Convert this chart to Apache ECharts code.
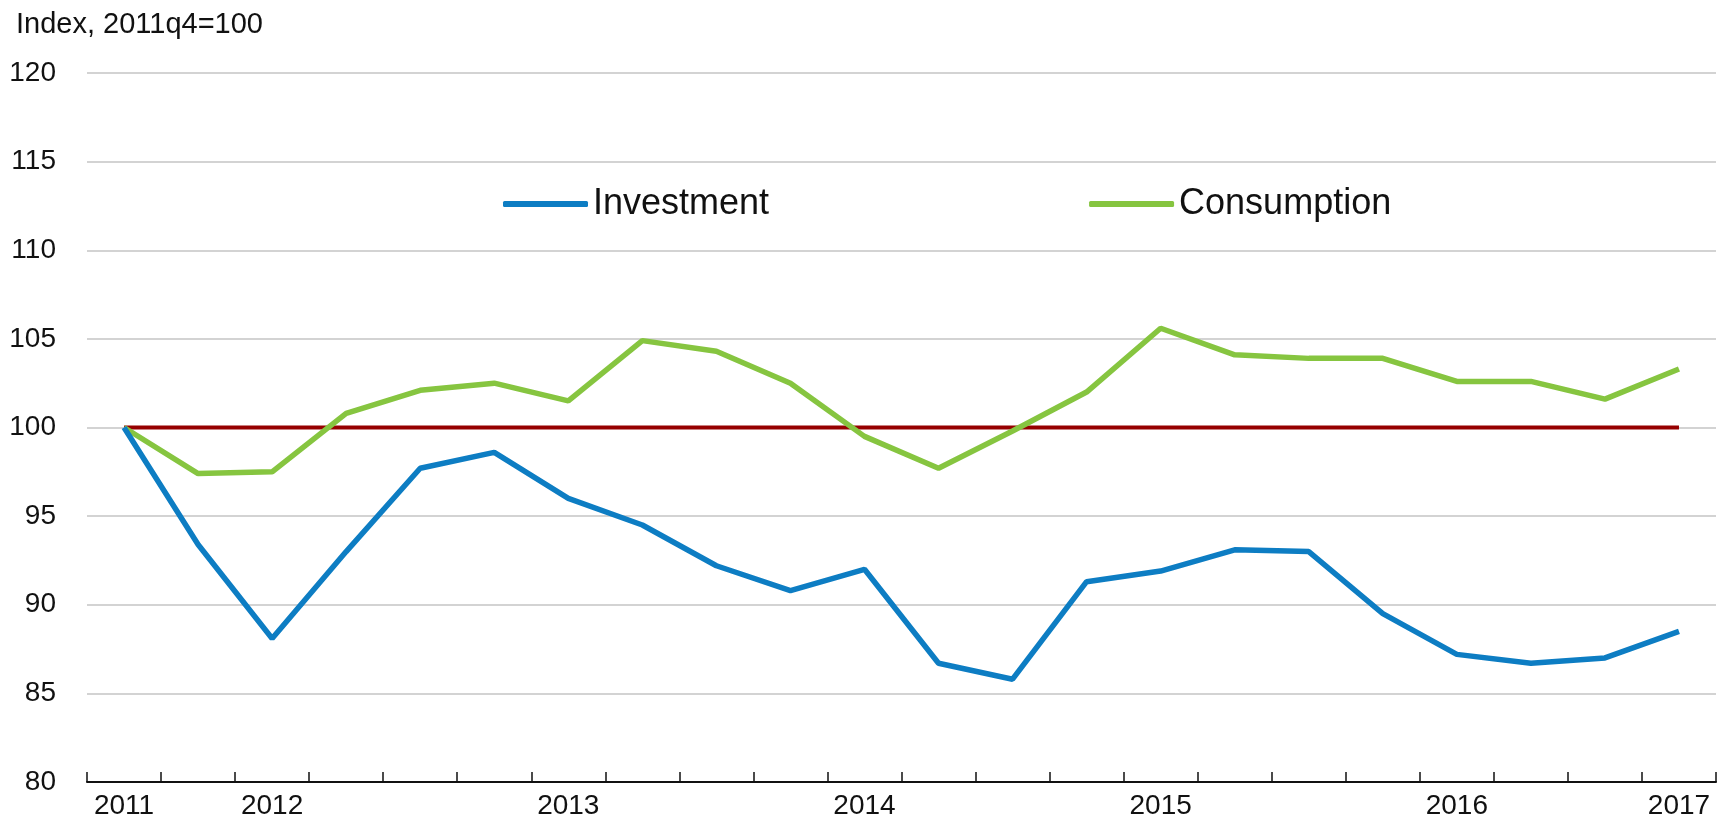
<!DOCTYPE html>
<html>
<head>
<meta charset="utf-8">
<script src="https://cdn.jsdelivr.net/npm/echarts@6/dist/echarts.min.js"></script>
<style>
html,body{margin:0;padding:0;background:#fff;}
#chart{width:1730px;height:826px;}
</style>
</head>
<body>
<div id="chart"></div>
<script>
const categories = ["2011q4","2012q1","2012q2","2012q3","2012q4","2013q1","2013q2","2013q3","2013q4","2014q1","2014q2","2014q3","2014q4","2015q1","2015q2","2015q3","2015q4","2016q1","2016q2","2016q3","2016q4","2017q1"];
const xTickLabels = ["2011","","2012","","","","2013","","","","2014","","","","2015","","","","2016","","","2017"];
const investment = [100.0,93.4,88.1,93.0,97.7,98.6,96.0,94.5,92.2,90.8,92.0,86.7,85.8,91.3,91.9,93.1,93.0,89.5,87.2,86.7,87.0,88.5];
const consumption = [100.0,97.4,97.5,100.8,102.1,102.5,101.5,104.9,104.3,102.5,99.5,97.7,99.8,102.0,105.6,104.1,103.9,103.9,102.6,102.6,101.6,103.3];
const baseline = [100,100,100,100,100,100,100,100,100,100,100,100,100,100,100,100,100,100,100,100,100,100];
const yTicks = {min: 80, max: 120, interval: 5};

const font = "'Liberation Sans', Arial, sans-serif";
const chart = echarts.init(document.getElementById('chart'));
chart.setOption({
  animation: false,
  backgroundColor: '#fff',
  textStyle: {fontFamily: font},
  title: {
    text: 'Index, 2011q4=100',
    left: 11, top: 5,
    textStyle: {fontFamily: font, fontSize: 29, fontWeight: 'normal', color: '#111'}
  },
  legend: {
    data: ['Investment', 'Consumption'],
    left: 498, top: 181,
    itemWidth: 85, itemHeight: 6, itemGap: 320,
    icon: 'roundRect',
    textStyle: {fontFamily: font, fontSize: 36, color: '#111'}
  },
  grid: {left: 87, right: 14, top: 73, bottom: 44, containLabel: false},
  xAxis: {
    type: 'category',
    data: categories,
    boundaryGap: true,
    axisLine: {lineStyle: {color: '#111', width: 2}},
    axisTick: {show: true, inside: true, length: 10, interval: 0, lineStyle: {color: '#111', width: 1.5}},
    axisLabel: {interval: 0, margin: 10, fontSize: 28, color: '#111', fontFamily: font,
      formatter: (v, i) => xTickLabels[i]},
    splitLine: {show: false}
  },
  yAxis: {
    type: 'value',
    min: yTicks.min, max: yTicks.max, interval: yTicks.interval,
    axisLine: {show: false},
    axisTick: {show: false},
    axisLabel: {margin: 31, fontSize: 28, color: '#111', fontFamily: font},
    splitLine: {lineStyle: {color: '#c4c4c4', width: 1.5}}
  },
  series: [
    {name: 'Baseline', type: 'line', data: baseline, symbol: 'none', z: 1,
      lineStyle: {color: '#960000', width: 4}, itemStyle: {color: '#960000'}},
    {name: 'Investment', type: 'line', data: investment, symbol: 'none', z: 3,
      lineStyle: {color: '#0d7dc3', width: 5.5}, itemStyle: {color: '#0d7dc3'}},
    {name: 'Consumption', type: 'line', data: consumption, symbol: 'none', z: 2,
      lineStyle: {color: '#86c540', width: 5.5}, itemStyle: {color: '#86c540'}}
  ]
});
</script>
</body>
</html>
